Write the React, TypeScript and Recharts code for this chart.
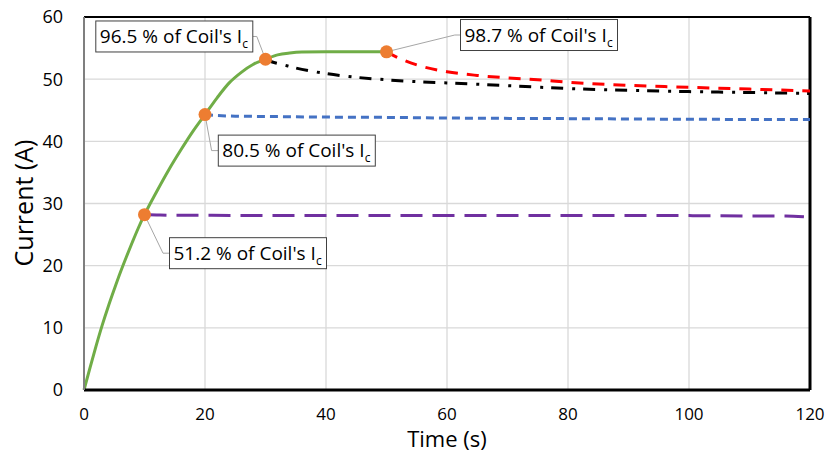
import { LineChart, Line, XAxis, YAxis, CartesianGrid, ReferenceDot, ReferenceLine, Label } from 'recharts';

// ramp-up (green), then hold curves starting at each stop point
const rampTime = [0, 1, 2, 3, 4, 5, 6, 7, 8, 9, 10, 12, 14, 16, 18, 20, 22, 24, 26, 28, 30, 32, 34, 36, 40, 45, 50];
const rampCurrent = [0, 3.6, 7.1, 10.4, 13.4, 16.2, 18.9, 21.4, 23.8, 26.1, 28.2, 31.9, 35.4, 38.6, 41.6, 44.3, 47.0, 49.4, 51.1, 52.4, 53.2, 53.9, 54.2, 54.35, 54.4, 54.4, 54.4];

const hold10Time = [10, 12, 15, 20, 30, 40, 60, 80, 100, 110, 116, 119];
const hold10Current = [28.2, 28.15, 28.1, 28.1, 28.05, 28.05, 28.05, 28.05, 28.05, 28.0, 28.0, 27.85];

const hold20Time = [20, 22, 25, 30, 40, 50, 60, 80, 100, 120];
const hold20Current = [44.3, 44.15, 44.05, 44.0, 43.9, 43.85, 43.75, 43.65, 43.55, 43.5];

const hold30Time = [30, 31, 33, 35, 40, 45, 50, 55, 60, 70, 80, 90, 100, 110, 120];
const hold30Current = [53.2, 52.8, 52.3, 51.8, 50.9, 50.3, 49.9, 49.6, 49.4, 48.95, 48.5, 48.2, 48.0, 47.85, 47.7];

const hold50Time = [50, 52, 55, 60, 65, 70, 75, 80, 90, 100, 110, 120];
const hold50Current = [54.4, 53.4, 52.3, 51.2, 50.6, 50.2, 49.9, 49.5, 49.0, 48.7, 48.4, 48.1];

const stopTime = [10, 20, 30, 50];
const stopCurrent = [28.2, 44.3, 53.2, 54.4];
const stopPercent = ['51.2', '80.5', '96.5', '98.7'];

const timeTicks = [0, 20, 40, 60, 80, 100, 120];
const currentTicks = [0, 10, 20, 30, 40, 50, 60];

const toPoints = (t: number[], v: number[]) => t.map((x, i) => ({ t: x, current: v[i] }));

const BOX_W = 157;
const BOX_H = 31;

// callout placement relative to its marker (pixels)
const calloutLayout = [
  { bx: 25, by: 23, ex: 18.5 },
  { bx: 13.3, by: 20.5, ex: 6.6 },
  { bx: -169.7, by: -38.3, ex: -8.7 },
  { bx: 74, by: -32.3, ex: 68.3 },
];

function makeCallout(i: number) {
  return (props: any) => {
    const { cx, cy } = props;
    const l = calloutLayout[i];
    const left = cx + l.bx;
    const top = cy + l.by;
    const midY = top + BOX_H / 2;
    const boxEdge = l.bx < 0 ? left + BOX_W : left;
    return (
      <g>
        <polyline
          points={`${cx},${cy} ${cx + l.ex},${midY} ${boxEdge},${midY}`}
          fill="none"
          stroke="#A6A6A6"
          strokeWidth={1}
        />
        <circle cx={cx} cy={cy} r={6.5} fill="#ED7D31" />
        <rect x={left} y={top} width={BOX_W} height={BOX_H} fill="#fff" stroke="#404040" strokeWidth={1} />
        <text x={left + 4} y={top + 22} fontSize={19} fill="#000" fontFamily="Open Sans">
          {`${stopPercent[i]} % of Coil's I`}
          <tspan fontSize={12} dy={5}>c</tspan>
        </text>
      </g>
    );
  };
}

export default function App() {
  return (
    <div style={{ position: 'absolute', left: 0, top: 0, background: '#fff' }}>
      <LineChart
        width={830}
        height={454}
        margin={{ top: 17, right: 20, bottom: 34, left: 24 }}
        style={{ fontFamily: 'Open Sans' }}
      >
        <CartesianGrid stroke="#D9D9D9" strokeWidth={1.3} />
        <XAxis
          type="number"
          dataKey="t"
          domain={[0, 120]}
          ticks={timeTicks}
          allowDuplicatedCategory={false}
          height={30}
          tickLine={false}
          tickMargin={12}
          axisLine={{ stroke: '#000', strokeWidth: 3 }}
          tick={{ fill: '#000', fontSize: 17 }}
        >
          <Label
            content={() => (
              <text x={447} y={447} textAnchor="middle" fontSize={22} fill="#000" fontFamily="Open Sans">
                Time (s)
              </text>
            )}
          />
        </XAxis>
        <YAxis
          type="number"
          domain={[0, 60]}
          ticks={currentTicks}
          width={60}
          tickLine={false}
          tickMargin={15}
          axisLine={{ stroke: '#7F7F7F', strokeWidth: 2 }}
          tick={{ fill: '#000', fontSize: 18 }}
        >
          <Label
            content={() => (
              <text
                x={33}
                y={203}
                transform="rotate(-90 33 203)"
                textAnchor="middle"
                fontSize={25}
                fill="#000"
                fontFamily="Open Sans"
              >
                Current (A)
              </text>
            )}
          />
        </YAxis>
        <ReferenceLine y={60} stroke="#000" strokeWidth={2} />
        <ReferenceLine x={120} stroke="#000" strokeWidth={3} />

        <Line data={toPoints(hold10Time, hold10Current)} dataKey="current" type="monotone" stroke="#7030A0" strokeWidth={3} strokeDasharray="22 10" dot={false} isAnimationActive={false} />
        <Line data={toPoints(hold20Time, hold20Current)} dataKey="current" type="monotone" stroke="#4472C4" strokeWidth={3} strokeDasharray="8 5" dot={false} isAnimationActive={false} />
        <Line data={toPoints(hold30Time, hold30Current)} dataKey="current" type="monotone" stroke="#000" strokeWidth={3} strokeDasharray="12 9 3 8" dot={false} isAnimationActive={false} />
        <Line data={toPoints(hold50Time, hold50Current)} dataKey="current" type="monotone" stroke="#FF0000" strokeWidth={3} strokeDasharray="12 9" dot={false} isAnimationActive={false} />
        <Line data={toPoints(rampTime, rampCurrent)} dataKey="current" type="monotone" stroke="#70AD47" strokeWidth={3} dot={false} isAnimationActive={false} />

        {stopTime.map((t, i) => (
          <ReferenceDot key={t} x={t} y={stopCurrent[i]} r={6.5} shape={makeCallout(i)} />
        ))}
      </LineChart>
    </div>
  );
}
